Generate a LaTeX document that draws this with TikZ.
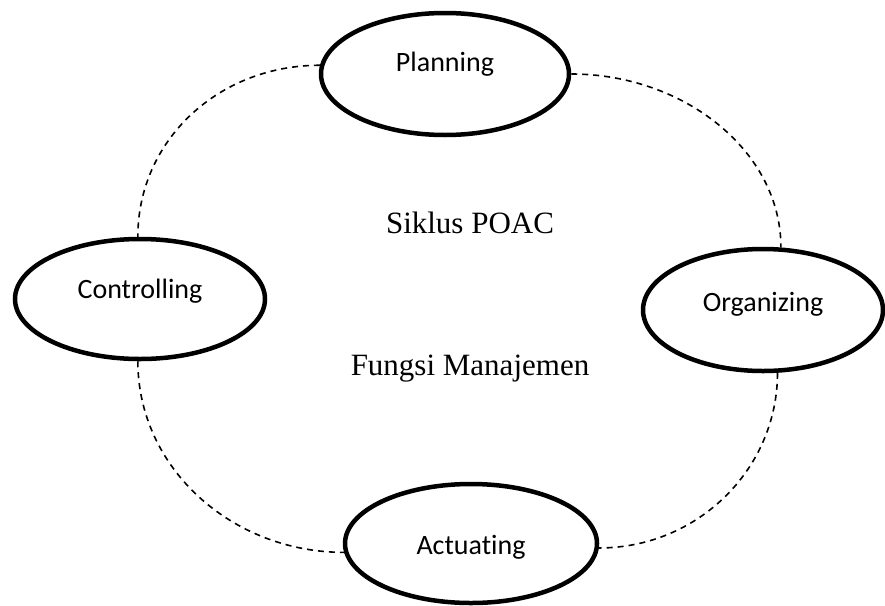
\documentclass[tikz,border=0pt]{standalone}
\usepackage{fontspec}
\setmainfont{Liberation Serif}
\newfontfamily\calib[Ligatures={NoCommon}]{Carlito}
\usetikzlibrary{shapes.geometric}
\begin{document}
\begin{tikzpicture}[x=1pt,y=-1pt,
  oval/.style={ellipse, draw, line width=4.5pt, inner sep=0pt, font=\calib\fontsize{28}{30}\selectfont},
  link/.style={line width=1.6pt, dash pattern=on 6pt off 5pt},
  title/.style={anchor=base, inner sep=0pt, font=\fontsize{31}{33}\selectfont}]
\useasboundingbox (0,0) rectangle (885,605);
\node[oval, minimum width=248pt, minimum height=122pt, text height=0pt, text depth=6pt] (plan) at (445,74) {Planning};
\node[oval, minimum width=250pt, minimum height=120pt, text height=0pt, text depth=2pt] (ctrl) at (140,299) {Controlling};
\node[oval, minimum width=240pt, minimum height=122pt, text height=2pt, text depth=0pt] (org) at (763,310) {Organizing};
\node[oval, minimum width=252pt, minimum height=119pt, text height=22pt, text depth=0pt] (act) at (471,543.5) {Actuating};
\node[title] (siklus) at (470,233) {Siklus POAC};
\node[title] (fungsi) at (470,375) {Fungsi Manajemen};
\draw[link] (plan.176) .. controls +(-102,0) and +(0,-96) .. (ctrl.92);
\draw[link] (plan.east) .. controls +(112,0) and +(0,-97) .. (org.74);
\draw[link] (ctrl.268) .. controls +(0,107) and +(-112,0) .. (act.184);
\draw[link] (org.283) .. controls +(0,96) and +(99,0) .. (act.358);
\end{tikzpicture}
\end{document}
